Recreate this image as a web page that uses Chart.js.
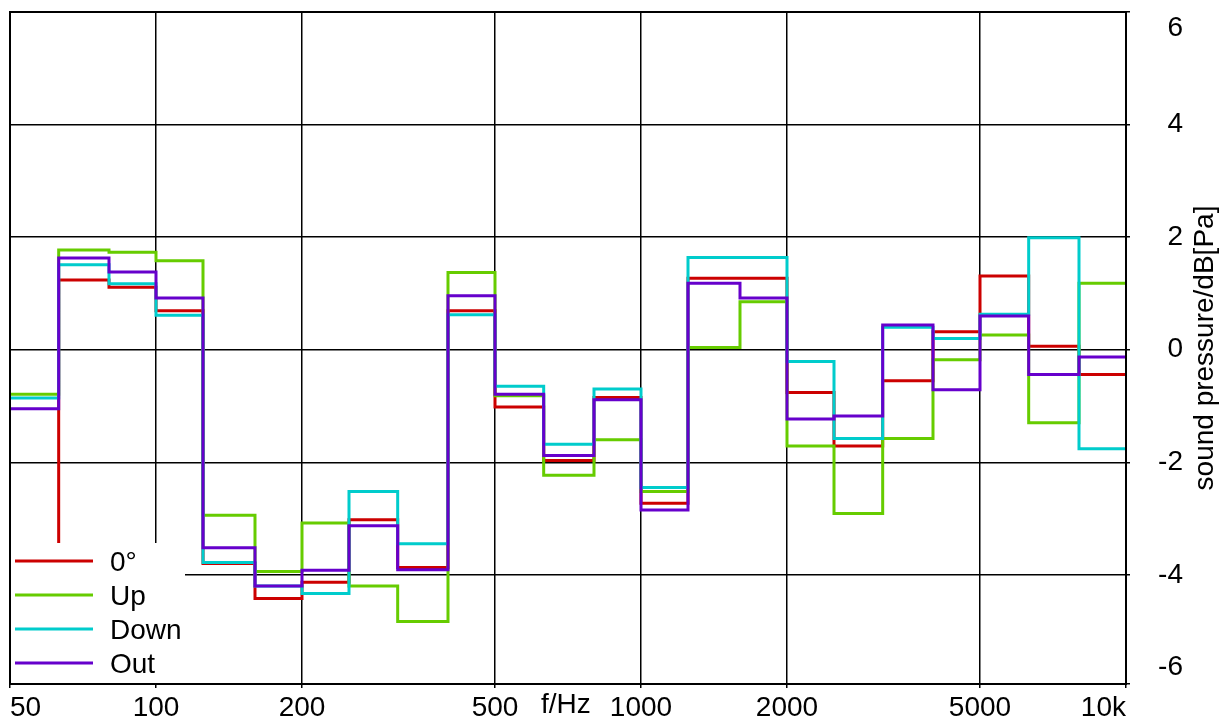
<!DOCTYPE html>
<html>
<head>
<meta charset="utf-8">
<script src="https://cdn.jsdelivr.net/npm/chart.js@4.4.1/dist/chart.umd.min.js"></script>
<style>
  html, body { margin: 0; padding: 0; background: #fff; }
  canvas { display: block; }
</style>
</head>
<body>
<canvas id="grafico" width="1231" height="720"></canvas>
<script>
// third-octave band edges (Hz); each level holds from its edge up to the next one
const bandEdges = [50, 63, 80, 100, 125, 160, 200, 250, 315, 400, 500, 630, 800, 1000,
  1250, 1600, 2000, 2500, 3150, 4000, 5000, 6300, 8000, 10000];

const names = ["0°", "Up", "Down", "Out"];
const colors = ["#cc0000", "#66cc00", "#00cccc", "#6600cc"];

// dB per band (23 bands)
const level0 = [-5.5, 1.24, 1.11, 0.69, -3.80, -4.42, -4.13, -3.02, -3.87, 0.69, -1.02, -1.97,
  -0.85, -2.73, 1.27, 1.27, -0.76, -1.71, -0.55, 0.32, 1.31, 0.06, -0.44];
const levelUp = [-0.79, 1.77, 1.73, 1.58, -2.94, -3.94, -3.08, -4.20, -4.83, 1.37, -0.82, -2.23,
  -1.60, -2.52, 0.04, 0.85, -1.71, -2.91, -1.58, -0.18, 0.26, -1.30, 1.18];
const levelDown = [-0.86, 1.51, 1.17, 0.61, -3.78, -4.20, -4.33, -2.52, -3.45, 0.62, -0.65, -1.68,
  -0.70, -2.45, 1.64, 1.64, -0.21, -1.58, 0.40, 0.20, 0.63, 1.99, -1.76];
const levelOut = [-1.05, 1.63, 1.38, 0.92, -3.52, -4.20, -3.92, -3.13, -3.91, 0.96, -0.79, -1.88,
  -0.89, -2.85, 1.18, 0.92, -1.23, -1.18, 0.44, -0.71, 0.60, -0.44, -0.13];

const xTicks = [50, 100, 200, 500, 1000, 2000, 5000, 10000];
const xTickLabels = ["50", "100", "200", "500", "1000", "2000", "5000", "10k"];
const yTicks = [-6, -4, -2, 0, 2, 4, 6];
const yMin = -5.94;
const yMax = 6;

const xTitle = "f/Hz";
const xTitleAt = 700;
const yTitle = "sound pressure/dB[Pa]";

const FONT = "'Liberation Sans', Arial, sans-serif";
Chart.defaults.font.family = FONT;
Chart.defaults.color = "#000";

// value i is held from bandEdges[i] to bandEdges[i+1]; last edge repeats the last band
function toSteps(levels) {
  return bandEdges.map((f, i) => ({ x: f, y: levels[Math.min(i, levels.length - 1)] }));
}

const series = [level0, levelUp, levelDown, levelOut];

const datasets = series.map((levels, i) => ({
  label: names[i],
  data: toSteps(levels),
  borderColor: colors[i],
  borderWidth: 3,
  stepped: true,
  fill: false,
  pointRadius: 0,
  order: series.length - i
}));

// === frame, legend inside the plot, axis titles ===
const extras = {
  id: "extras",
  afterDraw(chart) {
    const ctx = chart.ctx;
    const a = chart.chartArea;
    ctx.save();

    // legend box (white, covers grid and lines)
    ctx.fillStyle = "#fff";
    ctx.fillRect(a.left + 1, 543, 185 - a.left - 1, a.bottom - 1 - 543);
    ctx.font = "28px " + FONT;
    ctx.textAlign = "left";
    ctx.textBaseline = "middle";
    names.forEach((n, i) => {
      const y = 561 + i * 34;
      ctx.strokeStyle = colors[i];
      ctx.lineWidth = 3;
      ctx.beginPath();
      ctx.moveTo(15, y);
      ctx.lineTo(93, y);
      ctx.stroke();
      ctx.fillStyle = "#000";
      ctx.fillText(n, 110, y + 2);
    });

    // frame
    ctx.strokeStyle = "#000";
    ctx.lineWidth = 2;
    ctx.strokeRect(a.left, a.top, a.right - a.left, a.bottom - a.top);

    // x title among the tick labels
    ctx.fillStyle = "#000";
    ctx.textAlign = "center";
    ctx.textBaseline = "top";
    ctx.fillText(xTitle, chart.scales.x.getPixelForValue(xTitleAt), a.bottom + 7);

    // y title, reading bottom to top
    ctx.translate(1213, (a.top + a.bottom) / 2);
    ctx.rotate(-Math.PI / 2);
    ctx.textBaseline = "alphabetic";
    ctx.fillText(yTitle, 0, 0);
    ctx.restore();
  }
};

new Chart(document.getElementById("grafico"), {
  type: "line",
  data: { datasets },
  options: {
    responsive: false,
    animation: false,
    devicePixelRatio: 1,
    layout: { padding: { left: 10, top: 12, right: 48, bottom: 0 } },
    plugins: { legend: { display: false }, tooltip: { enabled: false } },
    scales: {
      x: {
        type: "logarithmic",
        min: 50,
        max: 10000,
        afterBuildTicks: s => { s.ticks = xTicks.map(v => ({ value: v })); },
        afterFit: s => { s.height = 36; s.paddingLeft = 0; s.paddingRight = 0; },
        ticks: {
          autoSkip: false,
          maxRotation: 0,
          minRotation: 0,
          align: "inner",
          padding: 3,
          font: { size: 28 },
          callback: (v, i) => xTickLabels[i]
        },
        grid: { color: "#000", lineWidth: 1.5, tickLength: 4 },
        border: { display: false }
      },
      y: {
        position: "right",
        min: yMin,
        max: yMax,
        afterBuildTicks: s => { s.ticks = yTicks.map(v => ({ value: Math.max(v, yMin) })); },
        afterFit: s => { s.width = 57; s.paddingTop = 0; s.paddingBottom = 0; },
        ticks: {
          crossAlign: "far",
          padding: 28,
          font: { size: 28, lineHeight: 1.18 },
          callback: (v, i) => {
            const t = String(yTicks[i]);
            if (i === 0) return [t, ""];
            if (i === yTicks.length - 1) return ["", t];
            return t;
          }
        },
        grid: { color: "#000", lineWidth: 1.5, tickLength: 4 },
        border: { display: false }
      }
    }
  },
  plugins: [extras]
});
</script>
</body>
</html>
